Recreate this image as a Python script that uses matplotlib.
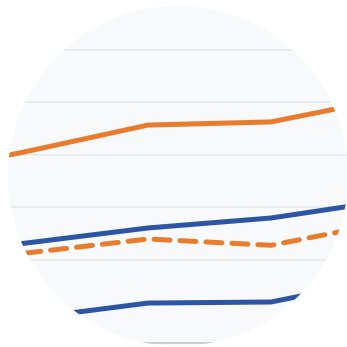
import matplotlib
matplotlib.use("Agg")
import matplotlib.pyplot as plt
from matplotlib.patches import Circle

# Data
x_idx = [0, 1, 2, 3, 4]
orange_solid = [35.9, 40.6, 45.7, 46.3, 51.0]
blue_upper = [20.4, 23.2, 26.1, 28.0, 31.5]
orange_dashed = [18.6, 21.3, 24.0, 22.8, 27.4]
blue_lower = [5.9, 8.8, 11.8, 12.0, 16.7]
grid_values = [20, 30, 40, 50, 60]
baseline_value = 4.2

ORANGE = "#e97b2c"
BLUE = "#2c56a3"

fig = plt.figure(figsize=(3.47, 3.47), dpi=100, facecolor="white")
ax = fig.add_axes([0, 0, 1, 1])
ax.set_xlim(0.797, 3.618)
ax.set_ylim(3.43, 69.52)
ax.axis("off")

W = 347.0
circ = Circle((178 / W, 1 - 176 / W), 170 / W, transform=ax.transAxes,
              facecolor="#f8f9fb", edgecolor="none", zorder=0)
ax.add_patch(circ)

artists = []
for g in grid_values:
    artists.append(ax.axhline(g, color="#e6e7ea", lw=1.1, zorder=1))
artists.append(ax.axhline(baseline_value, color="#cdced2", lw=1.4, zorder=1))

artists += ax.plot(x_idx, orange_solid, color=ORANGE, lw=3.6, solid_capstyle="round", zorder=3)
artists += ax.plot(x_idx, blue_upper, color=BLUE, lw=3.6, solid_capstyle="round", zorder=3)
artists += ax.plot(x_idx, orange_dashed, color=ORANGE, lw=3.6, dashes=(3.2, 2.0),
                   dash_capstyle="round", zorder=3)
artists += ax.plot(x_idx, blue_lower, color=BLUE, lw=3.6, solid_capstyle="round", zorder=3)

for a in artists:
    a.set_clip_path(circ)

fig.savefig("out.png", dpi=100, facecolor="white")
